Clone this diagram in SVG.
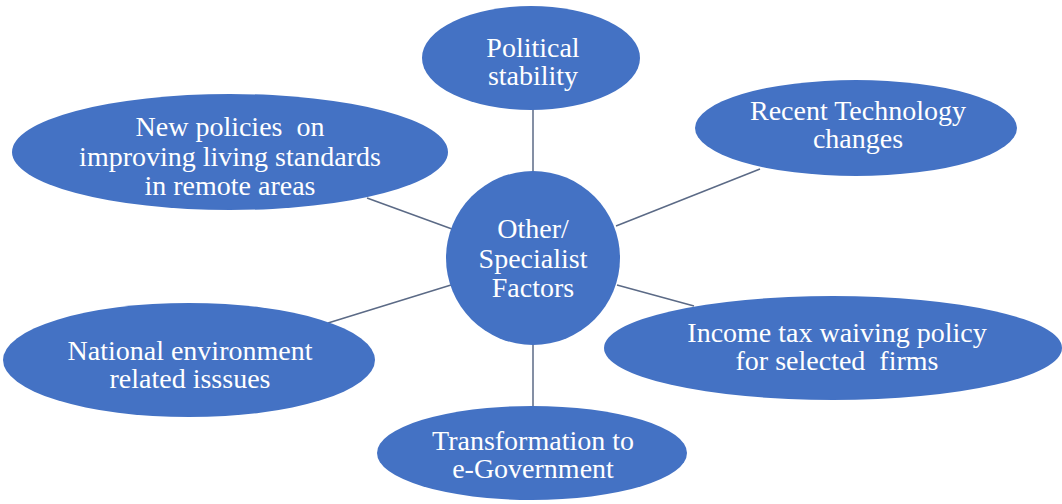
<svg xmlns="http://www.w3.org/2000/svg" width="1062" height="504" viewBox="0 0 1062 504">
  <style>
    .node { fill: #4472C4; }
    .lbl { font-family: "Liberation Serif", "Times New Roman", serif; font-size: 28px; fill: #ffffff; text-anchor: middle; white-space: pre; }
    .conn { stroke: #5b6a86; stroke-width: 1.5; fill: none; }
  </style>
  <rect width="1062" height="504" fill="#ffffff"/>

  <!-- spokes from the hub to each factor -->
  <g id="connectors">
    <line class="conn" x1="533" y1="108" x2="533" y2="174"/>
    <line class="conn" x1="367" y1="198" x2="452" y2="229"/>
    <line class="conn" x1="760" y1="169" x2="616" y2="226"/>
    <line class="conn" x1="617" y1="285" x2="694" y2="306"/>
    <line class="conn" x1="328" y1="323" x2="451" y2="285"/>
    <line class="conn" x1="533" y1="344" x2="533" y2="406"/>
  </g>

  <g id="political">
    <ellipse class="node" cx="531" cy="58" rx="109" ry="52"/>
    <text class="lbl"><tspan x="533" y="57">Political</tspan><tspan x="533" y="85">stability</tspan></text>
  </g>

  <g id="new-policies">
    <ellipse class="node" cx="230" cy="152" rx="218" ry="58"/>
    <text class="lbl" xml:space="preserve"><tspan x="230" y="136">New policies  on</tspan><tspan x="230" y="166">improving living standards</tspan><tspan x="230" y="195">in remote areas</tspan></text>
  </g>

  <g id="recent-technology">
    <ellipse class="node" cx="856" cy="128" rx="161" ry="48"/>
    <text class="lbl"><tspan x="858" y="120">Recent Technology</tspan><tspan x="858" y="148">changes</tspan></text>
  </g>

  <g id="hub">
    <circle class="node" cx="533" cy="258" r="87"/>
    <text class="lbl"><tspan x="533" y="238">Other/</tspan><tspan x="533" y="268">Specialist</tspan><tspan x="533" y="297">Factors</tspan></text>
  </g>

  <g id="income-tax">
    <ellipse class="node" cx="833" cy="348" rx="229" ry="52"/>
    <text class="lbl" xml:space="preserve"><tspan x="837" y="342">Income tax waiving policy</tspan><tspan x="837" y="370">for selected  firms</tspan></text>
  </g>

  <g id="national-environment">
    <ellipse class="node" cx="189" cy="360" rx="186" ry="57"/>
    <text class="lbl"><tspan x="190" y="360">National environment</tspan><tspan x="190" y="388">related isssues</tspan></text>
  </g>

  <g id="e-government">
    <ellipse class="node" cx="532" cy="453" rx="155" ry="47"/>
    <text class="lbl"><tspan x="533" y="450">Transformation to</tspan><tspan x="533" y="478">e-Government</tspan></text>
  </g>
</svg>
